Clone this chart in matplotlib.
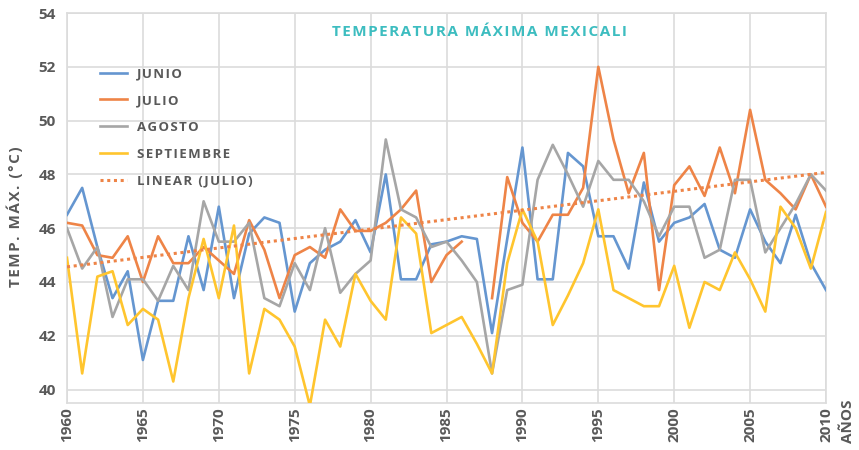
import matplotlib
matplotlib.use('Agg')
import matplotlib.pyplot as plt
import numpy as np

plt.rcParams['font.family'] = ['Open Sans', 'DejaVu Sans']

# Years 1960-2010
years = np.arange(1960, 2011)

junio = [46.5, 47.5, 45.3, 43.4, 44.4, 41.1, 43.3, 43.3, 45.7, 43.7,
         46.8, 43.4, 45.8, 46.4, 46.2, 42.9, 44.7, 45.2, 45.5, 46.3,
         45.1, 48.0, 44.1, 44.1, 45.4, 45.5, 45.7, 45.6, 42.1, 45.6,
         49.0, 44.1, 44.1, 48.8, 48.3, 45.7, 45.7, 44.5, 47.7, 45.5,
         46.2, 46.4, 46.9, 45.2, 44.9, 46.7, 45.5, 44.7, 46.5, 44.7,
         43.7]

julio = [46.2, 46.1, 45.0, 44.9, 45.7, 44.0, 45.7, 44.7, 44.7, 45.3,
         44.8, 44.3, 46.3, 45.2, 43.4, 45.0, 45.3, 44.9, 46.7, 45.9,
         45.9, 46.2, 46.7, 47.4, 44.0, 45.0, 45.5, np.nan, 43.4, 47.9,
         46.2, 45.5, 46.5, 46.5, 47.5, 52.0, 49.3, 47.3, 48.8, 43.7,
         47.6, 48.3, 47.2, 49.0, 47.3, 50.4, 47.8, 47.3, 46.7, 48.0,
         46.8]

agosto = [46.0, 44.5, 45.3, 42.7, 44.1, 44.1, 43.3, 44.6, 43.7, 47.0,
          45.5, 45.5, 46.2, 43.4, 43.1, 44.7, 43.7, 46.0, 43.6, 44.3,
          44.8, 49.3, 46.7, 46.4, 45.3, 45.5, 44.8, 44.0, 40.6, 43.7,
          43.9, 47.8, 49.1, 48.0, 46.8, 48.5, 47.8, 47.8, 47.0, 45.7,
          46.8, 46.8, 44.9, 45.2, 47.8, 47.8, 45.1, 46.0, 46.9, 48.0,
          47.4]

septiembre = [44.9, 40.6, 44.2, 44.4, 42.4, 43.0, 42.6, 40.3, 43.4, 45.6,
              43.4, 46.1, 40.6, 43.0, 42.6, 41.6, 39.4, 42.6, 41.6, 44.3,
              43.3, 42.6, 46.4, 45.8, 42.1, 42.4, 42.7, 41.7, 40.6, 44.7,
              46.7, 45.5, 42.4, 43.5, 44.7, 46.7, 43.7, 43.4, 43.1, 43.1,
              44.6, 42.3, 44.0, 43.7, 45.1, 44.1, 42.9, 46.8, 46.0, 44.5,
              46.6]

series_names = ['JUNIO', 'JULIO', 'AGOSTO', 'SEPTIEMBRE']
colors = ['#6596D0', '#EE8447', '#A6A6A6', '#FFC52E']
text_color = '#595959'


def spaced(s):
    # imitate the letter spacing of the original
    return '\u200a'.join(s)


fig = plt.figure(figsize=(8.59, 4.5), dpi=100)
ax = fig.add_axes([0.078, 0.1044, 0.8836, 0.8666])

for name, vals, c in zip(series_names, [junio, julio, agosto, septiembre], colors):
    ax.plot(years, vals, color=c, lw=1.9, label=spaced(name), zorder=3)

# linear trend of julio (ignoring the missing year)
jul = np.array(julio)
mask = ~np.isnan(jul)
coef = np.polyfit(years[mask], jul[mask], 1)
ax.plot(years, np.polyval(coef, years), color='#EE8447', lw=2.2,
        linestyle=(0, (1.0, 1.2)), label=spaced('LINEAR (JULIO)'), zorder=4)

ax.set_xlim(1960, 2010)
ax.set_ylim(39.5, 54)
ax.set_xticks(np.arange(1960, 2011, 5))
ax.set_yticks(np.arange(40, 55, 2))
ax.grid(True, color='#DCDCDC', lw=1.2)
ax.set_axisbelow(True)
for s in ax.spines.values():
    s.set_color('#DCDCDC')
    s.set_linewidth(1.2)
ax.tick_params(length=0, colors=text_color, labelsize=11)
ax.tick_params(axis='x', rotation=90, pad=3)
ax.tick_params(axis='y', pad=8)
for lab in ax.get_xticklabels() + ax.get_yticklabels():
    lab.set_fontweight('bold')

leg = ax.legend(loc='upper left', bbox_to_anchor=(0.0435, 0.861), frameon=False,
                borderpad=0, borderaxespad=0, handlelength=2.05,
                handletextpad=0.75, labelspacing=1.05,
                prop={'size': 9.5, 'weight': 'bold'})
for t in leg.get_texts():
    t.set_color(text_color)

fig.text(480 / 859, 1 - 32 / 450, spaced('TEMPERATURA MÁXIMA MEXICALI'), color='#3DBDC0',
         fontsize=11, fontweight='bold', ha='center', va='center')
fig.text(15 / 859, 1 - 217 / 450, spaced('TEMP. MÁX. (°C)'), color=text_color,
         fontsize=11, fontweight='bold', rotation=90, ha='center', va='center')
fig.text(848 / 859, 1 - 443 / 450, 'AÑOS', color=text_color,
         fontsize=11, fontweight='bold', rotation=90, ha='center', va='bottom')

fig.savefig('out.png', dpi=100)
